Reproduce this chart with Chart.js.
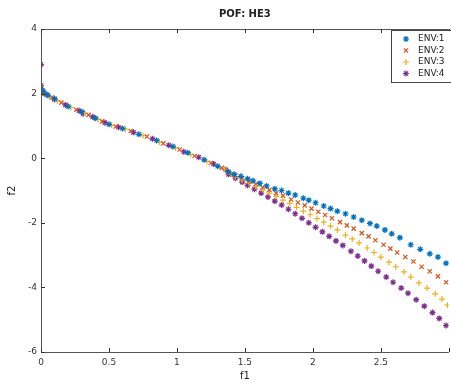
<!DOCTYPE html>
<html>
<head>
<meta charset="utf-8">
<script src="https://cdn.jsdelivr.net/npm/chart.js@4.4.1/dist/chart.umd.min.js"></script>
<style>
html,body{margin:0;padding:0;background:#fff;overflow:hidden;}
#wrap{width:454px;height:385px;}
</style>
</head>
<body>
<div id="wrap"><canvas id="c" width="454" height="385"></canvas></div>
<script>
const seriesNames = ['ENV:1','ENV:2','ENV:3','ENV:4'];
const seriesColors = ['#0072BD','#D95319','#EDB120','#7E2F8E'];
const xTickValues = [0,0.5,1,1.5,2,2.5,3];
const xTickLabels = ['0','0.5','1','1.5','2','2.5',''];
const yTickValues = [-6,-4,-2,0,2,4];
const yTickLabels = ['-6','-4','-2','0','2','4'];

const env1F1 = [0,0.02,0.05,0.1,0.2,0.3,0.4,0.5,0.6,0.72,0.85,0.97,1.08,1.2,1.3,1.38,1.42,1.47,1.52,1.56,1.61,1.66,1.72,1.77,1.82,1.87,1.93,1.97,2.02,2.08,2.13,2.18,2.24,2.3,2.36,2.42,2.47,2.53,2.58,2.64,2.72,2.79,2.86,2.92,2.98];
const env1F2 = [2.15,2.05,1.95,1.84,1.6,1.44,1.24,1.05,0.92,0.74,0.55,0.36,0.17,-0.05,-0.25,-0.42,-0.5,-0.56,-0.64,-0.7,-0.78,-0.86,-0.95,-1.0,-1.08,-1.14,-1.24,-1.3,-1.38,-1.48,-1.56,-1.64,-1.72,-1.82,-1.92,-2.02,-2.1,-2.22,-2.34,-2.46,-2.68,-2.82,-2.96,-3.06,-3.25];
const env2F1 = [0,0.03,0.08,0.15,0.26,0.35,0.45,0.55,0.66,0.78,0.9,1.02,1.13,1.25,1.33,1.38,1.43,1.48,1.53,1.58,1.63,1.68,1.73,1.78,1.84,1.89,1.94,1.99,2.04,2.09,2.14,2.2,2.25,2.3,2.36,2.41,2.46,2.52,2.57,2.62,2.68,2.74,2.8,2.86,2.92,2.98];
const env2F2 = [2.2,2.0,1.88,1.72,1.5,1.34,1.14,0.98,0.84,0.67,0.46,0.27,0.07,-0.15,-0.3,-0.45,-0.53,-0.62,-0.72,-0.8,-0.9,-0.98,-1.08,-1.16,-1.28,-1.37,-1.46,-1.56,-1.66,-1.76,-1.86,-1.98,-2.08,-2.18,-2.32,-2.42,-2.54,-2.68,-2.8,-2.92,-3.06,-3.2,-3.36,-3.5,-3.66,-3.84];
const env3F1 = [0,0.01,0.06,0.12,0.22,0.32,0.42,0.52,0.62,0.75,0.87,0.99,1.1,1.22,1.35,1.4,1.43,1.48,1.53,1.58,1.63,1.68,1.73,1.78,1.83,1.88,1.93,1.98,2.03,2.08,2.13,2.18,2.24,2.29,2.34,2.4,2.45,2.5,2.56,2.61,2.67,2.72,2.78,2.84,2.9,2.95,2.99];
const env3F2 = [2.1,2.02,1.92,1.78,1.57,1.4,1.2,1.02,0.9,0.7,0.5,0.32,0.12,-0.1,-0.34,-0.5,-0.57,-0.68,-0.78,-0.88,-0.98,-1.08,-1.18,-1.3,-1.4,-1.52,-1.64,-1.75,-1.87,-1.98,-2.1,-2.22,-2.38,-2.5,-2.62,-2.78,-2.92,-3.06,-3.22,-3.36,-3.52,-3.68,-3.86,-4.02,-4.2,-4.36,-4.55];
const env4F1 = [0,0,0.01,0.04,0.1,0.18,0.28,0.31,0.38,0.47,0.57,0.68,0.82,0.94,1.05,1.16,1.27,1.36,1.38,1.43,1.48,1.52,1.57,1.62,1.67,1.72,1.77,1.82,1.87,1.92,1.97,2.02,2.07,2.12,2.17,2.22,2.28,2.33,2.38,2.43,2.48,2.54,2.59,2.65,2.7,2.76,2.82,2.88,2.93,2.98];
const env4F2 = [2.9,2.25,2.1,1.97,1.82,1.65,1.47,1.38,1.28,1.1,0.96,0.8,0.6,0.4,0.2,0.03,-0.18,-0.36,-0.5,-0.62,-0.74,-0.84,-0.96,-1.08,-1.2,-1.33,-1.45,-1.58,-1.72,-1.86,-2.0,-2.14,-2.28,-2.42,-2.56,-2.7,-2.88,-3.03,-3.18,-3.34,-3.5,-3.68,-3.84,-4.02,-4.18,-4.38,-4.58,-4.78,-4.96,-5.18];

const seriesF1 = [env1F1, env2F1, env3F1, env4F1];
const seriesF2 = [env1F2, env2F2, env3F2, env4F2];
const markerStyles = ['star','crossRot','cross','star'];

const datasets = seriesNames.map((name,k)=>({
  label: name,
  data: seriesF1[k].map((v,i)=>({x:v,y:seriesF2[k][i]})),
  pointStyle: markerStyles[k],
  pointRadius: 3,
  pointBorderWidth: 1.2,
  borderColor: seriesColors[k],
  backgroundColor: seriesColors[k],
  showLine: false
}));

const FONT = 'DejaVu Sans';

const framePlugin = {
  id: 'frame',
  afterDraw(chart){
    const ctx = chart.ctx, a = chart.chartArea;
    const xs = chart.scales.x, ys = chart.scales.y;
    ctx.save();
    ctx.strokeStyle = '#555';
    ctx.lineWidth = 1;
    ctx.beginPath();
    ctx.moveTo(a.left+0.5, a.top+0.5); ctx.lineTo(a.right, a.top+0.5);
    ctx.moveTo(a.left+0.5, a.top); ctx.lineTo(a.left+0.5, a.bottom+0.5);
    ctx.moveTo(a.left, a.bottom+0.5); ctx.lineTo(a.right, a.bottom+0.5);
    ctx.stroke();
    ctx.strokeStyle = '#333';
    ctx.beginPath();
    xTickValues.forEach(v=>{
      const px = Math.round(xs.getPixelForValue(v))+0.5;
      ctx.moveTo(px, a.bottom); ctx.lineTo(px, a.bottom-4);
      ctx.moveTo(px, a.top); ctx.lineTo(px, a.top+4);
    });
    yTickValues.forEach(v=>{
      const py = Math.round(ys.getPixelForValue(v))+0.5;
      ctx.moveTo(a.left, py); ctx.lineTo(a.left+4, py);
    });
    ctx.stroke();
    // legend box
    const bx = 391.5, by = 30.5, bw = 70, bh = 52;
    ctx.fillStyle = '#fff';
    ctx.fillRect(bx, by, bw, bh);
    ctx.strokeStyle = '#444';
    ctx.strokeRect(bx, by, bw, bh);
    ctx.font = '9px "' + FONT + '"';
    ctx.textBaseline = 'middle';
    ctx.textAlign = 'left';
    chart.data.datasets.forEach((ds,i)=>{
      const yy = 39 + i*11.5;
      ctx.strokeStyle = ds.borderColor;
      ctx.fillStyle = ds.borderColor;
      ctx.lineWidth = 1.2;
      Chart.helpers.drawPoint(ctx, {pointStyle: ds.pointStyle, radius: 3, borderWidth: 1.2}, 406, yy);
      ctx.fillStyle = '#222';
      ctx.fillText(ds.label, 418, yy);
    });
    ctx.restore();
  }
};

new Chart(document.getElementById('c'), {
  type: 'scatter',
  data: { datasets },
  options: {
    responsive: false,
    animation: false,
    layout: { padding: { left: 0, right: 0, top: 0, bottom: 0 } },
    plugins: {
      legend: { display: false },
      tooltip: { enabled: false },
      title: {
        display: true,
        fullSize: false,
        text: 'POF: HE3',
        color: '#222',
        font: { family: FONT, size: 10, weight: 'bold' },
        padding: { top: 8, bottom: 9 }
      }
    },
    scales: {
      x: {
        type: 'linear', min: 0, max: 3,
        afterBuildTicks(s){ s.ticks = xTickValues.map(v=>({value:v})); },
        afterFit(s){ s.height = 33; },
        grid: { display: false, drawTicks: false },
        border: { display: false },
        ticks: {
          color: '#333', font: { family: FONT, size: 9 }, padding: 5, maxRotation: 0,
          callback(v){ const i = xTickValues.indexOf(v); return i>=0 ? xTickLabels[i] : ''; }
        },
        title: { display: true, text: 'f1', color: '#222', font: { family: FONT, size: 10 }, padding: { top: 0, bottom: 3 } }
      },
      y: {
        type: 'linear', min: -6, max: 4,
        afterBuildTicks(s){ s.ticks = yTickValues.map(v=>({value:v})); },
        afterFit(s){ s.width = 41; },
        grid: { display: false, drawTicks: false },
        border: { display: false },
        ticks: {
          color: '#333', font: { family: FONT, size: 9 }, padding: 4,
          callback(v){ const i = yTickValues.indexOf(v); return i>=0 ? yTickLabels[i] : ''; }
        },
        title: { display: true, text: 'f2', color: '#222', font: { family: FONT, size: 10 }, padding: { top: 6, bottom: 0 } }
      }
    }
  },
  plugins: [framePlugin]
});
</script>
</body>
</html>
